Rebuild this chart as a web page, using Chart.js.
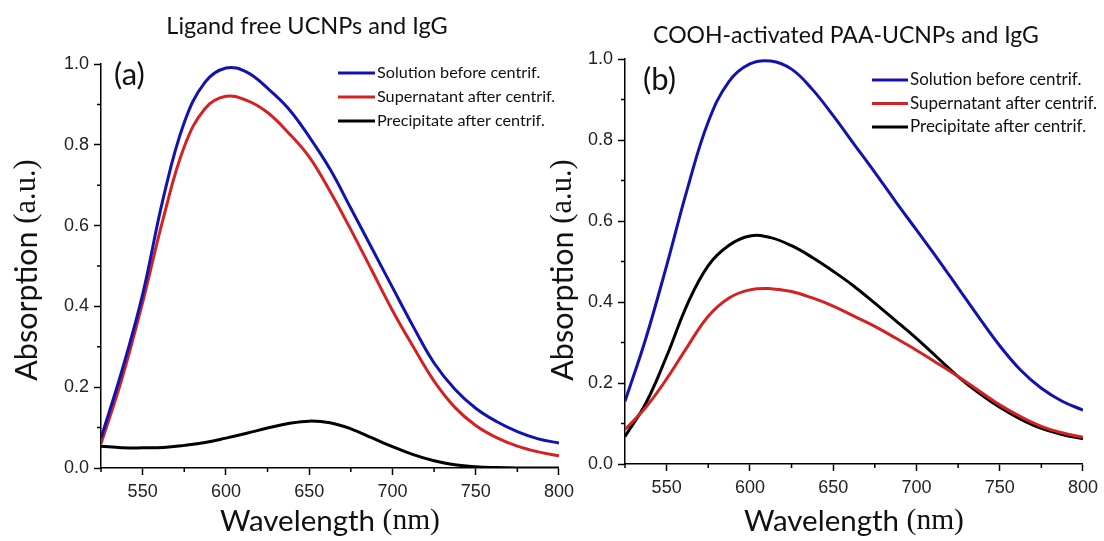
<!DOCTYPE html>
<html>
<head>
<meta charset="utf-8">
<title>Absorption spectra</title>
<script src="https://cdn.jsdelivr.net/npm/chart.js@4.4.0/dist/chart.umd.min.js"></script>
<style>
  body { margin: 0; background: #fff; width: 1104px; height: 541px; position: relative; overflow: hidden; }
  canvas { position: absolute; top: 0; }
  #chartA { left: 0; }
  #chartB { left: 550px; }
</style>
</head>
<body>
<canvas id="chartA" width="580" height="541"></canvas>
<canvas id="chartB" width="554" height="541"></canvas>
<script>
// wavelength grid (nm), shared by every curve
const wavelengths = [525, 537.5, 550, 562.5, 575, 587.5, 600, 612.5, 625, 637.5, 650, 662.5,
  675, 687.5, 700, 712.5, 725, 737.5, 750, 762.5, 775, 787.5, 800];

const seriesLabels = ["Solution before centrif.", "Supernatant after centrif.", "Precipitate after centrif."];
const seriesColors = ["#1212b0", "#d42222", "#000000"];

// (a) ligand free UCNPs
const solutionA = [0.074, 0.24, 0.43, 0.67, 0.855, 0.955, 0.99, 0.98, 0.94, 0.89, 0.82, 0.74,
  0.643, 0.545, 0.447, 0.35, 0.26, 0.195, 0.148, 0.115, 0.09, 0.072, 0.062];
const supernatantA = [0.06, 0.22, 0.41, 0.62, 0.795, 0.89, 0.92, 0.91, 0.88, 0.83, 0.77, 0.685,
  0.59, 0.49, 0.39, 0.30, 0.215, 0.15, 0.105, 0.075, 0.054, 0.04, 0.03];
const precipitateA = [0.054, 0.05, 0.05, 0.051, 0.056, 0.063, 0.074, 0.086, 0.099, 0.11, 0.116, 0.112,
  0.097, 0.075, 0.053, 0.033, 0.018, 0.008, 0.003, 0.001, 0, 0, 0];

// (b) COOH-activated PAA-UCNPs
const solutionB = [0.155, 0.31, 0.49, 0.68, 0.845, 0.945, 0.988, 0.995, 0.975, 0.925, 0.86, 0.79,
  0.72, 0.648, 0.578, 0.508, 0.435, 0.362, 0.292, 0.232, 0.187, 0.155, 0.133];
const supernatantB = [0.085, 0.14, 0.21, 0.29, 0.365, 0.41, 0.43, 0.433, 0.426, 0.41, 0.39, 0.365,
  0.34, 0.311, 0.281, 0.249, 0.216, 0.181, 0.146, 0.117, 0.093, 0.077, 0.066];
const precipitateB = [0.068, 0.15, 0.266, 0.395, 0.49, 0.54, 0.563, 0.559, 0.539, 0.51, 0.476, 0.439,
  0.397, 0.354, 0.31, 0.263, 0.216, 0.175, 0.14, 0.111, 0.088, 0.073, 0.062];

const xMin = 525, xMax = 800;
const yMin = 0, yMax = 1;

const sansFont = "Lato, 'Open Sans', sans-serif";
const serifFont = "'Liberation Serif', 'DejaVu Serif', serif";
const tickFont = "'Liberation Sans', Arial, sans-serif";

function toPoints(values) {
  return wavelengths.map((w, i) => ({ x: w, y: values[i] }));
}

// draws "sans part" + "serif part" as one centred string
function drawMixed(ctx, parts, cx, cy) {
  let total = 0;
  parts.forEach(p => { ctx.font = p.font; total += ctx.measureText(p.text).width; });
  let x = cx - total / 2;
  ctx.textAlign = "left";
  ctx.textBaseline = "middle";
  parts.forEach(p => {
    ctx.font = p.font;
    ctx.fillText(p.text, x, cy);
    x += ctx.measureText(p.text).width;
  });
}

const panelDecor = {
  id: "panelDecor",
  afterDraw(chart, args, opts) {
    const ctx = chart.ctx;
    const area = chart.chartArea;
    const xs = chart.scales.x, ys = chart.scales.y;
    ctx.save();

    // short minor ticks
    ctx.strokeStyle = "#000";
    ctx.lineWidth = 1.5;
    ctx.beginPath();
    xs.ticks.forEach(t => {
      if (t.value % 50 !== 0) {
        const px = xs.getPixelForValue(t.value);
        ctx.moveTo(px, area.bottom);
        ctx.lineTo(px, area.bottom + 4);
      }
    });
    ys.ticks.forEach(t => {
      if (Math.round(t.value * 10) % 2 !== 0) {
        const py = ys.getPixelForValue(t.value);
        ctx.moveTo(area.left, py);
        ctx.lineTo(area.left - 4, py);
      }
    });
    ctx.stroke();

    ctx.fillStyle = "#111";

    // panel title
    ctx.font = opts.titleSize + "px " + sansFont;
    ctx.textAlign = "center";
    ctx.textBaseline = "middle";
    ctx.fillText(opts.title, opts.titleX, opts.titleY);

    // panel letter
    ctx.font = opts.letterSize + "px " + sansFont;
    ctx.textAlign = "left";
    ctx.fillText(opts.letter, opts.letterX, opts.letterY);

    // legend, in dataset order
    ctx.font = opts.legendSize + "px " + sansFont;
    chart.data.datasets.forEach((ds, i) => {
      const ly = opts.legendY + i * opts.legendGap;
      ctx.strokeStyle = ds.borderColor;
      ctx.lineWidth = 3;
      ctx.beginPath();
      ctx.moveTo(opts.legendX, ly);
      ctx.lineTo(opts.legendX + opts.legendLine, ly);
      ctx.stroke();
      ctx.fillStyle = "#111";
      ctx.textBaseline = "middle";
      ctx.fillText(ds.label, opts.legendX + opts.legendLine + 2, ly);
    });

    // axis titles
    ctx.fillStyle = "#111";
    const cx = (area.left + area.right) / 2;
    drawMixed(ctx, [
      { text: "Wavelength ", font: opts.axisSize + "px " + sansFont },
      { text: "(nm)", font: opts.axisSize + "px " + serifFont }
    ], cx, opts.xTitleY);

    ctx.translate(opts.yTitleX, opts.yTitleY);
    ctx.rotate(-Math.PI / 2);
    drawMixed(ctx, [
      { text: "Absorption ", font: opts.yAxisSize + "px " + sansFont },
      { text: "(a.u.)", font: opts.yAxisSize + "px " + serifFont }
    ], 0, 0);

    ctx.restore();
  }
};

function makeChart(id, values, layout, decor) {
  // order: black drawn first, blue last (on top)
  const datasets = values.map((v, i) => ({
    label: seriesLabels[i],
    data: toPoints(v),
    borderColor: seriesColors[i],
    borderWidth: 3,
    pointRadius: 0,
    fill: false,
    tension: 0.4,
    order: i
  }));
  const tickColor = (major) => (major ? "#000" : "rgba(0,0,0,0)");

  return new Chart(document.getElementById(id), {
    type: "line",
    data: { datasets },
    options: {
      responsive: false,
      animation: false,
      devicePixelRatio: 1,
      layout: {
        autoPadding: false,
        padding: { left: 0, right: layout.right, top: layout.top, bottom: 0 }
      },
      plugins: {
        legend: { display: false },
        tooltip: { enabled: false },
        panelDecor: decor
      },
      scales: {
        x: {
          type: "linear",
          min: xMin,
          max: xMax,
          afterFit: s => { s.height = layout.xHeight; },
          border: { display: true, color: "#000", width: 1.5 },
          grid: {
            drawOnChartArea: false,
            tickLength: 7,
            tickWidth: 1.5,
            tickColor: c => tickColor(c.tick && c.tick.value % 50 === 0)
          },
          ticks: {
            stepSize: 25,
            autoSkip: false,
            maxRotation: 0,
            padding: 6,
            color: "#222",
            font: { family: tickFont, size: 18 },
            callback: v => (v % 50 === 0 ? String(v) : "")
          }
        },
        y: {
          type: "linear",
          min: yMin,
          max: yMax,
          afterFit: s => { s.width = layout.yWidth; },
          border: { display: true, color: "#000", width: 1.5 },
          grid: {
            drawOnChartArea: false,
            tickLength: 7,
            tickWidth: 1.5,
            tickColor: c => tickColor(c.tick && Math.round(c.tick.value * 10) % 2 === 0)
          },
          ticks: {
            stepSize: 0.1,
            autoSkip: false,
            padding: 5,
            color: "#222",
            font: { family: tickFont, size: 18 },
            callback: v => (Math.round(v * 10) % 2 === 0 ? v.toFixed(1) : "")
          }
        }
      }
    },
    plugins: [panelDecor]
  });
}

makeChart("chartA", [solutionA, supernatantA, precipitateA],
  { right: 18, top: 64, xHeight: 73, yWidth: 101 },
  {
    title: "Ligand free UCNPs and IgG", titleSize: 23.5, titleX: 307, titleY: 26,
    letter: "(a)", letterSize: 31, letterX: 114, letterY: 75,
    legendX: 338, legendY: 73, legendGap: 24, legendLine: 37, legendSize: 16.2,
    axisSize: 29.5, yAxisSize: 30.5, xTitleY: 521, yTitleX: 27, yTitleY: 270
  });

makeChart("chartB", [solutionB, supernatantB, precipitateB],
  { right: 18, top: 59, xHeight: 77, yWidth: 75 },
  {
    title: "COOH-activated PAA-UCNPs and IgG", titleSize: 23, titleX: 296, titleY: 36,
    letter: "(b)", letterSize: 31, letterX: 93, letterY: 80,
    legendX: 322, legendY: 80, legendGap: 23.5, legendLine: 36, legendSize: 17,
    axisSize: 29.5, yAxisSize: 30.5, xTitleY: 521, yTitleX: 13, yTitleY: 270
  });
</script>
</body>
</html>
